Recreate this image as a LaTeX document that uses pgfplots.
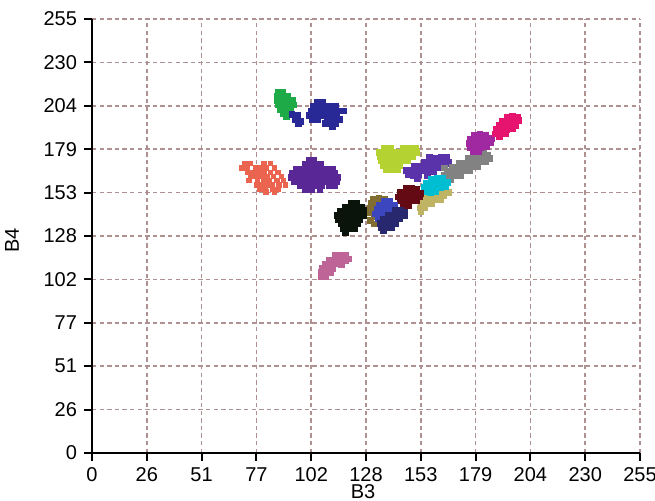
\documentclass[border=0pt]{standalone}
\usepackage{fontspec}
\setmainfont{Liberation Sans}
\usepackage{pgfplots}
\pgfplotsset{compat=1.18}
\definecolor{gridc}{RGB}{175,145,145}
\definecolor{cgreen}{RGB}{30,170,70}
\definecolor{cblue}{RGB}{40,40,150}
\definecolor{ccoral}{RGB}{235,100,80}
\definecolor{cpurple}{RGB}{90,40,150}
\definecolor{cyg}{RGB}{180,210,50}
\definecolor{cviolet}{RGB}{90,50,170}
\definecolor{cgray}{RGB}{130,130,130}
\definecolor{cmag}{RGB}{160,40,160}
\definecolor{ccrim}{RGB}{230,20,110}
\definecolor{ccyan}{RGB}{0,190,210}
\definecolor{ckhaki}{RGB}{190,180,100}
\definecolor{cmaroon}{RGB}{100,10,20}
\definecolor{cblack}{RGB}{10,20,10}
\definecolor{colive}{RGB}{130,110,50}
\definecolor{croyal}{RGB}{60,70,190}
\definecolor{cnavy}{RGB}{40,40,110}
\definecolor{cmauve}{RGB}{190,100,150}
\begin{document}
\begin{tikzpicture}
\useasboundingbox (-46pt,-24pt) rectangle (281.5pt,226.5pt);
\begin{axis}[
  at={(0,0)}, anchor=south west,
  scale only axis, width=274pt, height=217pt,
  xmin=0, xmax=255, ymin=0, ymax=255,
  axis lines*=left,
  axis line style={line width=1pt, black},
  xtick={0,25.5,51,76.5,102,127.5,153,178.5,204,229.5,255},
  ytick={0,25.5,51,76.5,102,127.5,153,178.5,204,229.5,255},
  xticklabels={0,26,51,77,102,128,153,179,204,230,255},
  yticklabels={0,26,51,77,102,128,153,179,204,230,255},
  tick align=outside, major tick length=4pt,
  tick style={line width=1pt, black},
  grid=major,
  grid style={color=gridc, line width=0.8pt, dash pattern=on 2.2pt off 1.6pt},
  tick label style={font=\fontsize{10}{12}\selectfont},
  xticklabel style={inner sep=1pt, yshift=-2pt},
  /pgf/number format/assume math mode=true,
  xlabel={B3}, ylabel={B4},
  label style={font=\fontsize{10}{12}\selectfont},
  xlabel style={at={(axis description cs:0.4945,0)}, anchor=center, yshift=-19.3pt, inner sep=0pt},
  ylabel style={at={(axis description cs:0,0.49)}, anchor=center, yshift=40pt},
  every axis plot/.append style={only marks, mark=square*, mark size=1.4pt},
]
% green
\addplot[color=cgreen] coordinates {(86.5,212)(88.5,212)(86,209.5)(88.5,209.5)(91,209.5)(86,207)(88.5,207)(91,207)(93.5,207)(86.5,204.5)(89,204.5)(91.5,204.5)(94,204.5)(87.5,202)(90,202)(92.5,202)(89,199.5)(91.5,199.5)(90.5,197.5)};
% blue
\addplot[color=cblue] coordinates {(93,199)(95.5,198.5)(94.5,196)(97,195)(96,193.5)
(105,206)(107.5,206)(103,203.5)(105.5,203.5)(108,203.5)(110.5,203.5)(113.5,203.5)
(102,201)(104.5,201)(107,201)(109.5,201)(112,201)(115,201)(117,201)
(101,198.5)(103.5,198.5)(106,198.5)(108.5,198.5)(111,198.5)(114,198.5)
(102.5,196)(105,196)(109.5,196)(112,196)(115,196)(108.5,193.5)(111,193.5)(113.5,193.5)(112,192)};
% coral
\addplot[color=ccoral, mark size=1.1pt] coordinates {(71,170)(73.5,170)(80,170)(83,170)
(69.5,167.5)(72,167.5)(76,167.5)(78.5,167.5)(81,167.5)(85,167.5)
(72.5,165)(75,165)(77.5,165)(80,165)(83,165)(86.5,165)
(74,162.5)(76.5,162.5)(79,162.5)(81.5,162.5)(84.5,162.5)(88,162.5)
(73,160)(77,160)(80,160)(82.5,160)(86,160)(89,160)
(76.5,157.5)(79,157.5)(81.5,157.5)(84,157.5)(87,157.5)(90,157.5)
(78,155)(80.5,155)(84,155)(86.5,155)(81,153.5)(85,153.5)};
% purple
\addplot[color=cpurple] coordinates {(101,172)(103,172)(99,169.5)(101.5,169.5)(104,169.5)(106.5,169.5)
(95,167)(97.5,167)(100,167)(102.5,167)(105,167)(107.5,167)(110,167)(112,167)
(93,164.5)(95.5,164.5)(98,164.5)(100.5,164.5)(103,164.5)(105.5,164.5)(108,164.5)(110.5,164.5)(113,164.5)
(92.5,162)(95,162)(97.5,162)(100,162)(102.5,162)(105,162)(107.5,162)(110,162)(112.5,162)(114.5,162)
(94,159.5)(96.5,159.5)(99,159.5)(101.5,159.5)(104,159.5)(106.5,159.5)(109,159.5)(111.5,159.5)(114,159.5)
(97,157)(99.5,157)(102,157)(104.5,157)(107,157)(110.5,157)(113,157)(99,155)(102,155)(106,155)};
% yellow-green
\addplot[color=cyg] coordinates {(136,179)(139,179)(145,179)(148,179)(150.5,179)
(133.5,176.5)(136,176.5)(138.5,176.5)(141,176.5)(143.5,176.5)(146,176.5)(148.5,176.5)(151,176.5)
(134,174)(136.5,174)(139,174)(141.5,174)(144,174)(146.5,174)(149,174)
(134.5,171.5)(137,171.5)(139.5,171.5)(142,171.5)(144.5,171.5)(147,171.5)
(135.5,169)(138,169)(140.5,169)(143,169)(137,166.5)(139.5,166.5)(142,166.5)};
% violet
\addplot[color=cviolet] coordinates {(147,163.5)(149.5,163)(152,163.5)(148.5,166)(151,166)(153.5,166)(156,165.5)
(153,168.5)(155.5,168.5)(158,168)(160.5,167.5)(157,171)(159.5,170.5)(162,170)(164.5,170)
(160,173)(162.5,173.5)(165,173.5)(154.5,171)
(146,166)(150,168.5)(151.5,161)(156,163)(159,165.5)(163,167.5)(166,171)(157,173.5)};
% gray
\addplot[color=cgray] coordinates {(164,163)(166.5,162.5)(169,163)(165.5,165.5)(168,165.5)(170.5,165.5)(173,166)
(169.5,168)(172,168)(174.5,168.5)(177,168.5)(173.5,170.5)(176,171)(178.5,171)(181,171)
(177.5,173.5)(180,173.5)(182.5,173.5)(179.5,176)(182,176)(184,175)
(167,160.5)(171.5,163)(175.5,166)(179.5,168.5)(183,171)(185,173)
(164,167.5)(167.5,168)(171,170.5)(175,173)(178,175.5)};
% magenta
\addplot[color=cmag] coordinates {(178,187)(180.5,187.5)(183,187)(176,184.5)(178.5,184.5)(181,184.5)(183.5,184.5)(186,185)
(175.5,182)(178,182)(180.5,182)(183,182)(185.5,182.5)(176,179.5)(178.5,179.5)(181,179.5)(183.5,180)(177.5,177)(180,177)};
% crimson
\addplot[color=ccrim] coordinates {(193,197.5)(195.5,198)(198,197.5)(191,195)(193.5,195)(196,195)(198.5,195.5)
(189.5,192.5)(192,192.5)(194.5,192.5)(197,192.5)(188,190)(190.5,190)(193,190)(195.5,190.5)
(187.5,187.5)(190,187.5)(192.5,187.5)(189.5,186)};
% khaki
\addplot[color=ckhaki] coordinates {(159,154)(161.5,154)(164,154)(166,153)(156,151.5)(158.5,151.5)(161,151.5)(163.5,151.5)
(154.5,149)(157,149)(159.5,149)(162,149)(153,146.5)(155.5,146.5)(158,146.5)(152.5,144)(155,144)(153,142)};
% cyan
\addplot[color=ccyan] coordinates {(158,161)(160.5,161.5)(163,161.5)(155.5,158.5)(158,158.5)(160.5,158.5)(163,158.5)(165.5,159)
(154.5,156)(157,156)(159.5,156)(162,156)(164.5,156.5)(155,153.5)(157.5,153)(160,153.5)};
% maroon
\addplot[color=cmaroon] coordinates {(146,155.5)(148.5,155.5)(151,155)(143.5,153)(146,153)(148.5,153)(151,153)(153,152.5)
(142.5,150.5)(145,150.5)(147.5,150.5)(150,150.5)(152.5,150.5)(143.5,148)(146,148)(148.5,148)(151,148)(145,145.5)(147.5,145.5)};
% black
\addplot[color=cblack] coordinates {(120.5,147)(123,147)(118,144.5)(120.5,144.5)(123,144.5)(125.5,144.5)
(115.5,142)(118,142)(120.5,142)(123,142)(125.5,142)(127.5,142.5)
(114,139.5)(116.5,139.5)(119,139.5)(121.5,139.5)(124,139.5)(126.5,139.5)
(114.5,137)(117,137)(119.5,137)(122,137)(124.5,137)(116,134.5)(118.5,134.5)(121,134.5)(123.5,134.5)
(117,132)(119.5,132)(122,132)(118,129.5)};
% olive
\addplot[color=colive] coordinates {(131,149)(133.5,149.5)(136,149)(130,146.5)(132.5,146.5)(135,146.5)(129.5,144)(132,144)
(129.5,141.5)(131.5,139)(129.5,136.5)(131.5,134.5)};
% royal blue
\addplot[color=croyal] coordinates {(136,148)(138.5,148)(133.5,145.5)(136,145.5)(138.5,145.5)(141,145.5)
(132.5,143)(135,143)(137.5,143)(140,143)(132,140.5)(134.5,140.5)(137,140.5)(133,138)};
% navy
\addplot[color=cnavy] coordinates {(141,142.5)(143.5,142.5)(145.5,141.5)(138,140)(140.5,140)(143,140)(145.5,139.5)
(135.5,137.5)(138,137.5)(140.5,137.5)(143,137.5)(134,135)(136.5,135)(139,135)(141.5,135)
(134.5,132.5)(137,132.5)(139.5,132.5)(135.5,130.5)};
% mauve
\addplot[color=cmauve] coordinates {(113,116)(115.5,116.5)(118,116)(119.5,114)(110.5,113.5)(113,113.5)(115.5,113.5)(118,113)
(108.5,111)(111,111)(113.5,111)(116,110.5)(107,108.5)(109.5,108.5)(112,108.5)(106.5,106)(109,106)(111,106)(106.5,103.5)(108.5,103.5)};
\end{axis}
\end{tikzpicture}
\end{document}
